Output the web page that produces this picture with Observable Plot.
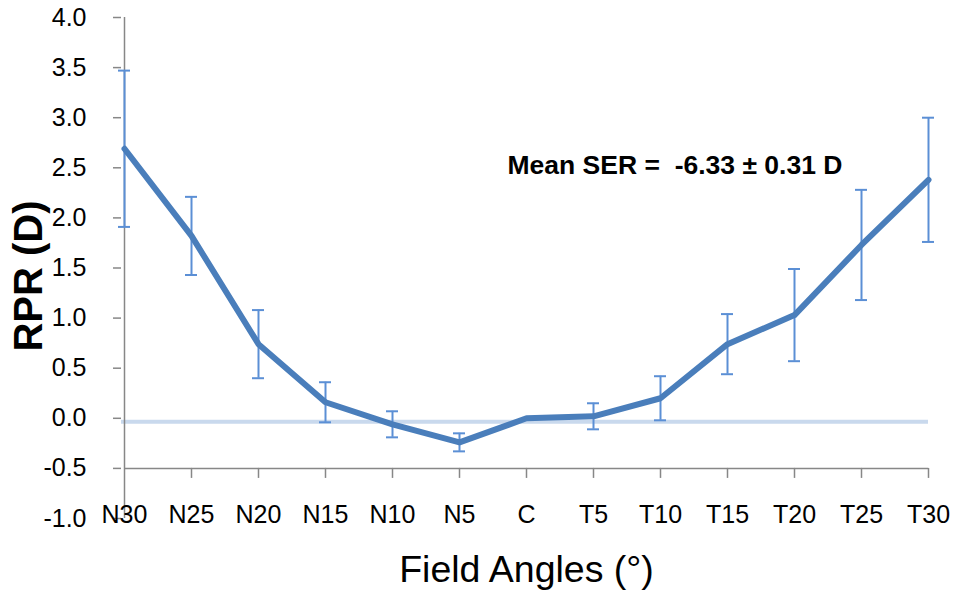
<!DOCTYPE html>
<html>
<head>
<meta charset="utf-8">
<script src="https://cdn.jsdelivr.net/npm/d3@7"></script>
<script src="https://cdn.jsdelivr.net/npm/@observablehq/plot@0.6"></script>
<style>
  body { margin: 0; background: #fff; }
</style>
</head>
<body>
<div id="chart"></div>
<script>
// Field angles across the horizontal visual field (nasal → centre → temporal)
const fieldAngles = ["N30", "N25", "N20", "N15", "N10", "N5", "C", "T5", "T10", "T15", "T20", "T25", "T30"];
// Mean relative peripheral refraction (D) at each angle
const rpr = [2.69, 1.82, 0.74, 0.16, -0.06, -0.24, 0.00, 0.02, 0.20, 0.74, 1.03, 1.73, 2.38];
// Error bar half-length (D)
const errHalf = [0.78, 0.39, 0.34, 0.20, 0.13, 0.09, 0, 0.13, 0.22, 0.30, 0.46, 0.55, 0.62];
// Vertical axis ticks
const yTicks = [-1.0, -0.5, 0.0, 0.5, 1.0, 1.5, 2.0, 2.5, 3.0, 3.5, 4.0];
// Level where the horizontal axis crosses, and the faint baseline level
const xAxisLevel = -0.5;
const baselineLevel = -0.035;
const annotation = "Mean SER =  -6.33 \u00b1 0.31 D";

const rows = fieldAngles.map((a, i) => ({angle: a, rpr: rpr[i], lo: rpr[i] - errHalf[i], hi: rpr[i] + errHalf[i], err: errHalf[i]}));
const withErr = rows.filter(d => d.err > 0);
const firstAngle = fieldAngles[0];
const lastAngle = fieldAngles[fieldAngles.length - 1];

const axisGray = "#878787";
const lineBlue = "#4a7ebb";
const barBlue = "#5b8fd5";

const chart = Plot.plot({
  width: 955,
  height: 605,
  marginLeft: 121,
  marginRight: 24,
  marginTop: 17,
  marginBottom: 87,
  x: {type: "point", domain: fieldAngles, padding: 0},
  y: {domain: [-1, 4]},
  style: {fontFamily: "'Liberation Sans', Arial, sans-serif", background: "#fff", overflow: "visible", color: "#000"},
  marks: [
    // faint baseline
    Plot.ruleY([baselineLevel], {x1: () => firstAngle, x2: () => lastAngle, insetLeft: -3, stroke: "#c9d9ed", strokeWidth: 4}),
    // vertical axis line
    Plot.ruleX([firstAngle], {y1: -1, y2: 4, stroke: axisGray, strokeWidth: 1.5}),
    Plot.axisY(yTicks, {tickSize: 8, tickPadding: 27, tickFormat: d => d.toFixed(1), fontSize: 25, stroke: axisGray, strokeWidth: 1.5, label: null}),
    // horizontal axis line and its ticks
    Plot.ruleY([xAxisLevel], {x1: () => firstAngle, x2: () => lastAngle, stroke: axisGray, strokeWidth: 1.5}),
    Plot.ruleX(fieldAngles.slice(1), {x: d => d, y1: xAxisLevel, y2: xAxisLevel - 0.1, stroke: axisGray, strokeWidth: 1.5}),
    Plot.axisX({tickSize: 0, tickPadding: 0, dy: -13, fontSize: 25, label: null}),
    // error bars with caps
    Plot.ruleX(withErr, {x: "angle", y1: "lo", y2: "hi", stroke: barBlue, strokeWidth: 2}),
    Plot.ruleY(withErr, {x1: "angle", x2: "angle", y: "hi", stroke: barBlue, strokeWidth: 2, insetLeft: -6, insetRight: -6}),
    Plot.ruleY(withErr, {x1: "angle", x2: "angle", y: "lo", stroke: barBlue, strokeWidth: 2, insetLeft: -6, insetRight: -6}),
    // mean RPR line
    Plot.line(rows, {x: "angle", y: "rpr", stroke: lineBlue, strokeWidth: 6, strokeLinejoin: "round"}),
    // annotation
    Plot.text([annotation], {frameAnchor: "top-left", dx: 386, dy: 148, textAnchor: "start", lineAnchor: "middle", fontSize: 26.5, fontWeight: "bold", fill: "#000"}),
    // axis titles
    Plot.text(["RPR (D)"], {frameAnchor: "left", textAnchor: "middle", dx: -92, dy: 8, rotate: -90, fontSize: 40, fontWeight: "bold", fill: "#000"}),
    Plot.text(["Field Angles (\u00b0)"], {frameAnchor: "bottom", dx: 0, dy: 63, fontSize: 37.5, fill: "#000"})
  ]
});
document.getElementById("chart").appendChild(chart);
</script>
</body>
</html>
